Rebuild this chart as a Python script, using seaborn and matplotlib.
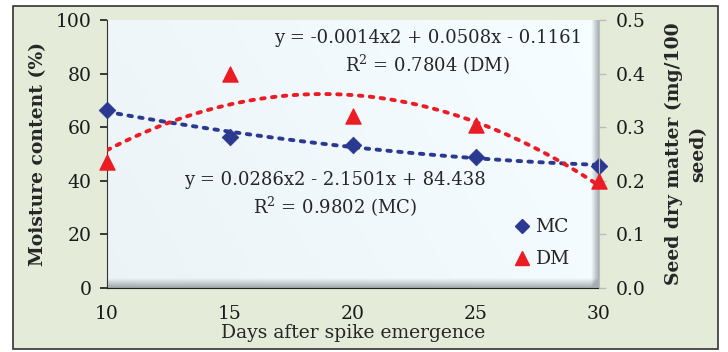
import numpy as np
import matplotlib
matplotlib.use("Agg")
import matplotlib.pyplot as plt
import seaborn as sns
from matplotlib.patches import Rectangle
from matplotlib.lines import Line2D

# Data
days = [10, 15, 20, 25, 30]
moisture = [66.5, 56.5, 53.5, 49.0, 45.5]     # MC (%)
dry_matter = [0.235, 0.40, 0.32, 0.305, 0.20]  # DM (mg/100 seed)

mc_eq = "y = 0.0286x2 - 2.1501x + 84.438\nR$^2$ = 0.9802 (MC)"
dm_eq = "y = -0.0014x2 + 0.0508x - 0.1161\nR$^2$ = 0.7804 (DM)"

blue = "#2b3990"
red = "#ec1c24"

sns.set_style("white")
plt.rcParams["font.family"] = ["DejaVu Serif"]
plt.rcParams["font.size"] = 12
plt.rcParams["mathtext.fontset"] = "dejavuserif"

fig = plt.figure(figsize=(7.28, 3.52), dpi=100)
fig.patch.set_facecolor("white")
fig.patches.append(Rectangle((13 / 728, 3 / 352), 705 / 728, 343 / 352,
                             transform=fig.transFigure, facecolor="#e4ecd9",
                             edgecolor="#333333", linewidth=1.2, zorder=-10))

ax = fig.add_axes([107 / 728, 64 / 352, 492 / 728, 268 / 352])
ax.set_facecolor("none")

# plot-area fill with a soft bevel shadow on the right and bottom
h, w = 300, 600
yy, xx = np.mgrid[0:1:h * 1j, 0:1:w * 1j]
base = np.array([0.925, 0.955, 0.968])
img = np.ones((h, w, 3)) * base
img += (xx[..., None] * 0.03) + ((1 - yy[..., None]) * 0.01)
shade = np.clip((xx - 0.985) / 0.015, 0, 1) + np.clip((yy - 0.965) / 0.035, 0, 1)
img -= np.clip(shade, 0, 1)[..., None] * 0.3
img = np.clip(img, 0, 1)
ax.imshow(img, extent=[0, 1, 0, 1], transform=ax.transAxes, aspect="auto", zorder=0)

ax2 = ax.twinx()

line_style = dict(linestyle=(0, (0.9, 1.9)), linewidth=2.8, dash_capstyle="round")
sns.regplot(x=days, y=moisture, order=2, ci=None, scatter=False, ax=ax,
            color=blue, line_kws=line_style, truncate=True)
sns.regplot(x=days, y=dry_matter, order=2, ci=None, scatter=False, ax=ax2,
            color=red, line_kws=line_style, truncate=True)
sns.scatterplot(x=days, y=moisture, marker="D", s=70, color=blue, ax=ax,
                edgecolor=blue, zorder=5, clip_on=False)
sns.scatterplot(x=days, y=dry_matter, marker="^", s=120, color=red, ax=ax2,
                edgecolor=red, zorder=5, clip_on=False)

ax.set_xlim(10, 30)
ax.set_ylim(0, 100)
ax2.set_ylim(0, 0.5)
ax.set_xticks([10, 15, 20, 25, 30])
ax.set_yticks(range(0, 101, 20))
ax2.set_yticks([0.0, 0.1, 0.2, 0.3, 0.4, 0.5])
ax2.set_yticklabels(["0.0", "0.1", "0.2", "0.3", "0.4", "0.5"])

for a in (ax, ax2):
    for s in a.spines.values():
        s.set_visible(False)
ax.spines["left"].set_visible(True)
ax.spines["left"].set_color("#333333")
ax.spines["bottom"].set_visible(True)
ax.spines["bottom"].set_color("#222222")
ax2.spines["right"].set_visible(True)
ax2.spines["right"].set_color("#bbbbbb")

ax.tick_params(axis="both", direction="out", length=5, width=1.2, colors="#1a1a1a",
               labelsize=13.5, pad=6)
ax.tick_params(axis="x", pad=7)
ax2.tick_params(axis="y", direction="out", length=5, width=1, color="#bbbbbb",
                labelcolor="#1a1a1a", labelsize=13.5, pad=7)

ax.set_xlabel("Days after spike emergence", fontsize=13.5, labelpad=1)
ax.set_ylabel("Moisture content (%)", fontsize=13.5, fontweight="bold", labelpad=6)
ax2.set_ylabel("Seed dry matter (mg/100\nseed)", fontsize=13.5, fontweight="bold",
               labelpad=14, linespacing=1.45)

ax.text(0.652, 0.965, dm_eq, transform=ax.transAxes, ha="center", va="top",
        fontsize=13, linespacing=1.3)
ax.text(0.463, 0.435, mc_eq, transform=ax.transAxes, ha="center", va="top",
        fontsize=13, linespacing=1.3)

handles = [Line2D([], [], marker="D", color=blue, linestyle="none", markersize=7.5),
           Line2D([], [], marker="^", color=red, linestyle="none", markersize=10)]
ax2.legend(handles, ["MC", "DM"], loc="lower right", bbox_to_anchor=(0.975, 0.01),
           frameon=False, fontsize=13.5, handletextpad=0.1, labelspacing=0.75,
           handlelength=1.2)

fig.savefig("out.png", dpi=100)
